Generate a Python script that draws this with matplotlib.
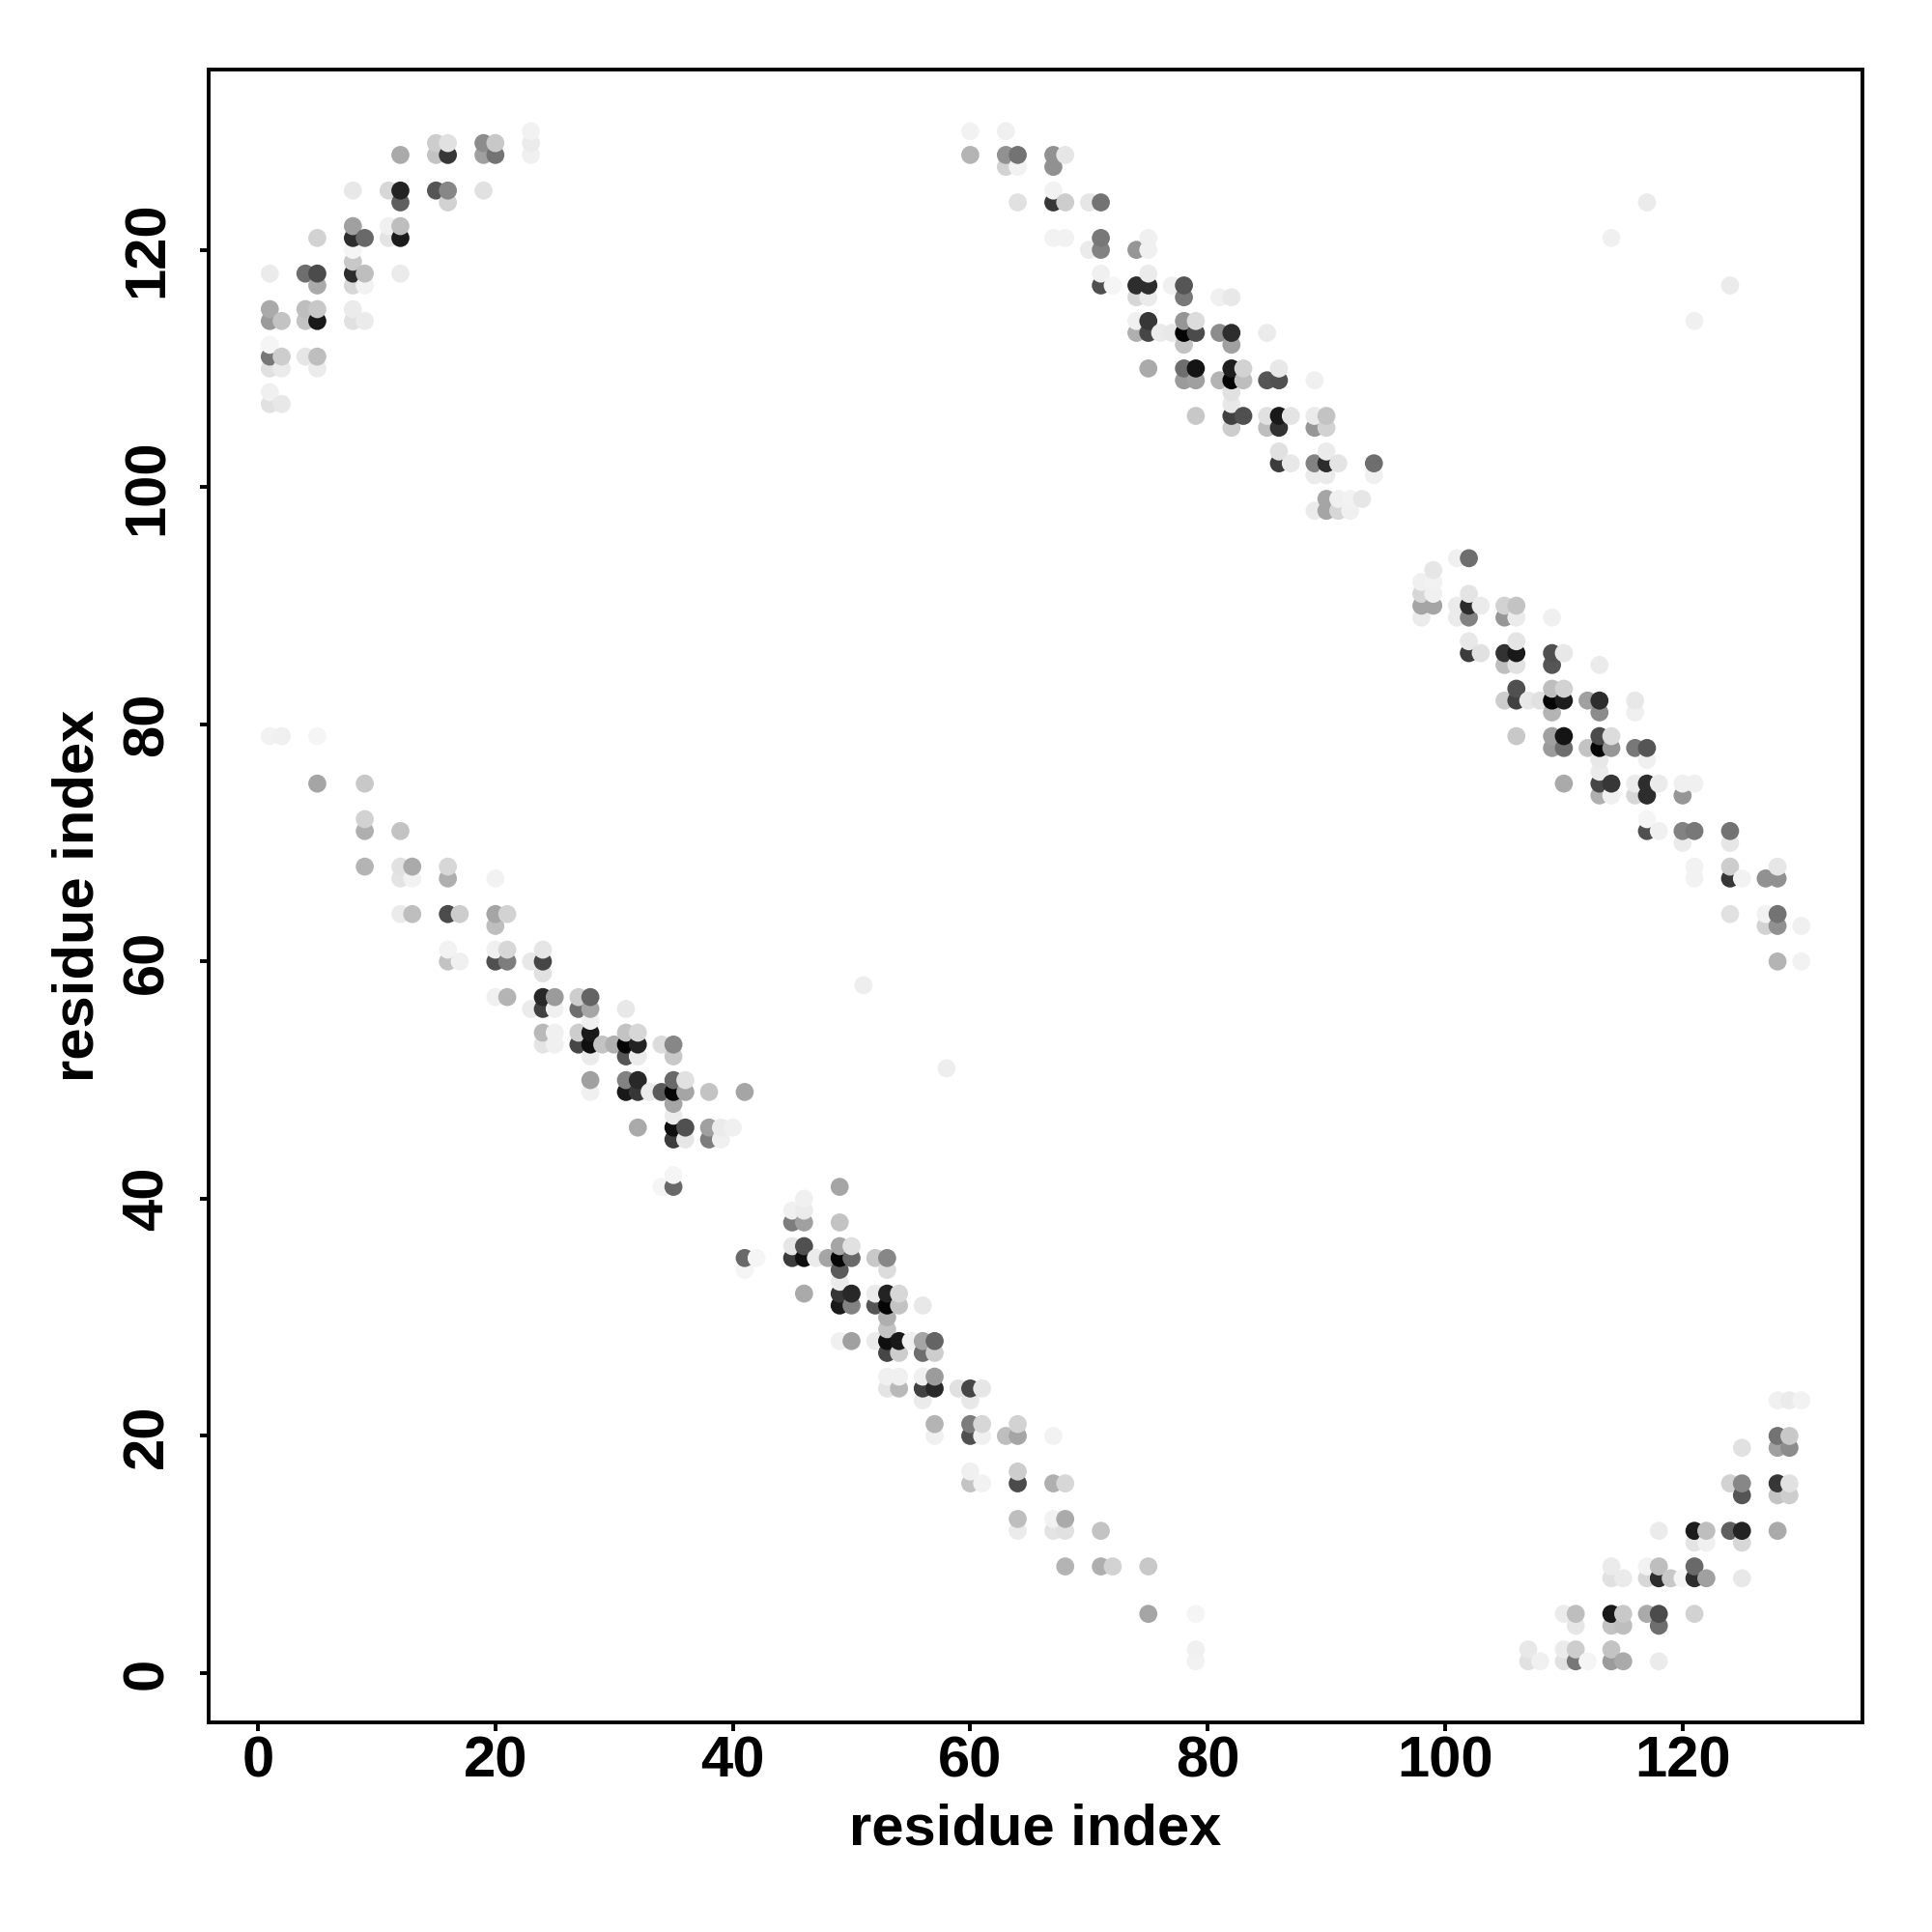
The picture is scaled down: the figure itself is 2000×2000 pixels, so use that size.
import numpy as np
import matplotlib
matplotlib.use('Agg')
import matplotlib.pyplot as plt

# contact map is symmetric, only i < j is listed, the rest is mirrored below
# far band, top left corner
corner_i = [23, 23, 23, 19, 20, 19, 20, 15, 16, 15, 16, 12,
            8, 11, 12, 15, 16, 19, 12, 16,
            8, 11, 12, 5, 8, 9, 11, 12, 8, 8,
            1, 4, 5, 8, 9, 12, 5, 8, 9,
            1, 4, 5, 8, 1, 2, 4, 5, 8, 9,
            1, 1, 2, 4, 5, 1, 2, 5, 1, 1, 2]
corner_j = [130, 129, 128, 129, 129, 128, 128, 129, 129, 128, 128, 128,
            125, 125, 125, 125, 125, 125, 124, 124,
            122, 122, 122, 121, 121, 121, 121, 121, 120, 119,
            118, 118, 118, 118, 118, 118, 117, 117, 117,
            115, 115, 115, 115, 114, 114, 114, 114, 114, 114,
            112, 111, 111, 111, 111, 110, 110, 110, 108, 107, 107]
corner_shade = [242, 235, 240, 140, 200, 160, 115, 205, 225, 195, 55, 170,
                232, 215, 35, 85, 135, 225, 95, 210,
                160, 240, 190, 210, 45, 105, 228, 28, 245, 200,
                235, 110, 75, 45, 190, 235, 170, 215, 242,
                170, 190, 200, 235, 155, 195, 195, 25, 225, 235,
                245, 120, 205, 230, 190, 225, 235, 235, 240, 225, 232]

# upper band
upper_i = [60, 63, 60, 63, 64, 67, 68, 63, 64, 67,
           67, 64, 67, 68, 70, 71,
           67, 68, 71, 75, 70, 71, 74, 75,
           71, 75, 71, 72, 74, 75, 77, 78,
           74, 75, 78, 81, 82,
           74, 75, 78, 79,
           74, 75, 76, 77, 78, 79, 81, 82, 85,
           78, 82,
           75, 78, 79, 82, 83, 86,
           78, 79, 81, 82, 83, 85, 86, 89,
           82, 82,
           79, 82, 83, 85, 86, 87, 89, 90,
           82, 85, 86, 89, 90,
           86, 90,
           86, 87, 89, 90, 91, 94,
           89, 90, 94,
           90, 91, 92, 93,
           89, 90, 91, 92]
upper_j = [130, 130, 128, 128, 128, 128, 128, 127, 127, 127,
           125, 124, 124, 124, 124, 124,
           121, 121, 121, 121, 120, 120, 120, 120,
           118, 118, 117, 117, 117, 117, 117, 117,
           116, 116, 116, 116, 116,
           114, 114, 114, 114,
           113, 113, 113, 113, 113, 113, 113, 113, 113,
           112, 112,
           110, 110, 110, 110, 110, 110,
           109, 109, 109, 109, 109, 109, 109, 109,
           108, 107,
           106, 106, 106, 106, 106, 106, 106, 106,
           105, 105, 105, 105, 105,
           103, 103,
           102, 102, 102, 102, 102, 102,
           101, 101, 101,
           99, 99, 99, 99,
           98, 98, 98, 98]
upper_shade = [242, 240, 180, 145, 115, 145, 230, 210, 242, 145,
               242, 225, 55, 205, 230, 115,
               242, 242, 120, 240, 235, 130, 150, 240,
               240, 235, 80, 245, 45, 45, 240, 85,
               215, 235, 120, 240, 232,
               240, 55, 150, 220,
               175, 70, 235, 232, 5, 75, 140, 45, 235,
               195, 160,
               170, 110, 20, 30, 210, 232,
               155, 160, 180, 5, 190, 85, 80, 240,
               225, 232,
               200, 65, 80, 225, 25, 228, 235, 195,
               205, 190, 50, 150, 210,
               225, 235,
               60, 232, 130, 45, 228, 110,
               235, 235, 240,
               165, 240, 242, 230,
               235, 165, 215, 240]

# lower band
lower_i = [1, 2, 5, 5, 9, 9, 9, 12, 9, 12, 13, 16, 12, 13, 16, 20,
           12, 13, 16, 17, 20, 21, 20,
           16, 20, 21, 24, 16, 17, 20, 21, 23, 24, 24,
           20, 21, 24, 25, 27, 28,
           23, 24, 25, 27, 28, 31, 28,
           24, 25, 27, 28, 31, 32,
           24, 25, 27, 28, 29, 30, 31, 32, 34, 35,
           28, 31, 32, 35,
           28, 31, 32, 35, 36,
           28, 31, 32, 33, 34, 35, 36, 38, 41,
           35, 35,
           32, 35, 36, 38, 39, 40,
           35, 36, 38, 39,
           35, 34, 35, 51]
lower_j = [79, 79, 79, 75, 75, 72, 71, 71, 68, 68, 68, 68, 67, 67, 67, 67,
           64, 64, 64, 64, 64, 64, 63,
           61, 61, 61, 61, 60, 60, 60, 60, 60, 60, 59,
           57, 57, 57, 57, 57, 57,
           56, 56, 56, 56, 56, 56, 55,
           54, 54, 54, 54, 54, 54,
           53, 53, 53, 53, 53, 53, 53, 53, 53, 53,
           52, 52, 52, 52,
           50, 50, 50, 50, 50,
           49, 49, 49, 49, 49, 49, 49, 49, 49,
           48, 47,
           46, 46, 46, 46, 46, 46,
           45, 45, 45, 45,
           42, 41, 41, 58]
lower_shade = [242, 240, 245, 165, 200, 210, 175, 195, 180, 225, 170, 215, 228, 242, 175, 242,
               235, 190, 75, 205, 165, 210, 190,
               242, 240, 215, 230, 195, 240, 80, 125, 232, 70, 225,
               240, 180, 40, 155, 205, 100,
               235, 65, 240, 110, 165, 232, 240,
               185, 240, 205, 25, 195, 215,
               228, 240, 70, 15, 195, 175, 5, 35, 220, 135,
               235, 85, 235, 200,
               160, 130, 40, 105, 225,
               240, 25, 55, 235, 90, 5, 165, 195, 165,
               165, 235,
               170, 15, 80, 160, 235, 240,
               60, 230, 125, 240,
               245, 245, 105, 238]

# stray contacts away from the bands
stray_i = [114, 117]
stray_j = [121, 124]
stray_shade = [240, 235]

i = np.array(corner_i + upper_i + lower_i + stray_i)
j = np.array(corner_j + upper_j + lower_j + stray_j)
shade = np.array(corner_shade + upper_shade + lower_shade + stray_shade)

x = np.concatenate([i, j])
y = np.concatenate([j, i])
c = np.concatenate([shade, shade])

# points are painted by x then y, later ones cover earlier ones
order = np.lexsort((y, x))

plt.rcParams['font.family'] = ['Liberation Sans', 'DejaVu Sans']
plt.rcParams['font.weight'] = 'bold'

fig = plt.figure(figsize=(20, 20), dpi=100)
ax = fig.add_axes([216 / 2000, 1 - 1783 / 2000, 1712 / 2000, 1711 / 2000])
ax.scatter(x[order], y[order], c=c[order], cmap='gray', vmin=0, vmax=255,
           s=181, linewidths=0)

ax.set_xlim(-4.15, 135.15)
ax.set_ylim(-4.15, 135.2)
ax.set_xticks(range(0, 121, 20))
ax.set_yticks(range(0, 121, 20))
ax.tick_params(length=6.5, width=2.8, labelsize=43)
ax.tick_params(axis='x', pad=3)
ax.tick_params(axis='y', pad=19)
plt.setp(ax.get_yticklabels(), rotation=90, va='center')
for s in ax.spines.values():
    s.set_linewidth(2.8)

ax.set_xlabel('residue index', fontsize=43, fontweight='bold', labelpad=11)
ax.set_ylabel('residue index', fontsize=43, fontweight='bold', labelpad=12)

fig.savefig('out.png', dpi=100, facecolor='white')
